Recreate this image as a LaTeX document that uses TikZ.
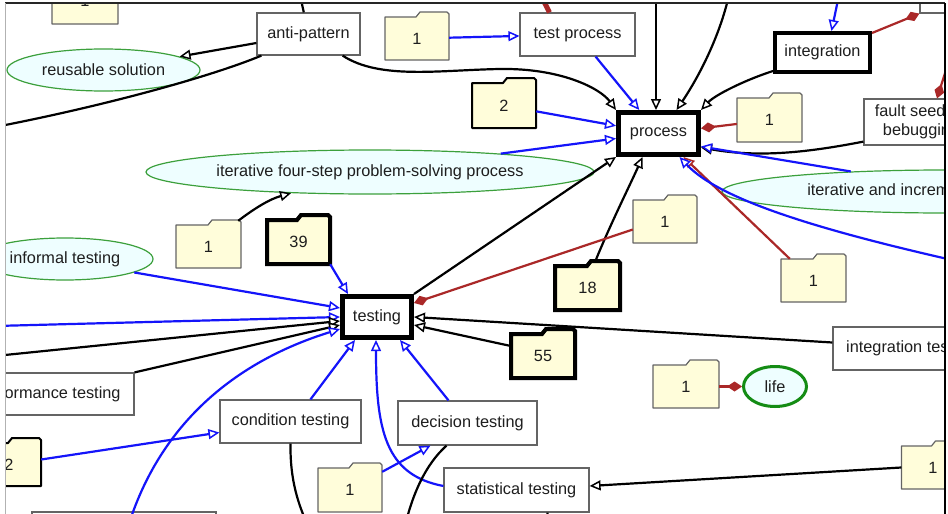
\documentclass[tikz,border=0pt]{standalone}
\usepackage{fontspec}
\setmainfont{Liberation Sans}
\usetikzlibrary{shapes.geometric,arrows.meta,calc}
\definecolor{foldfill}{RGB}{255,253,218}
\definecolor{foldline}{RGB}{100,100,100}
\definecolor{ellfill}{RGB}{238,254,255}
\definecolor{ellline}{RGB}{60,160,60}
\definecolor{lifeline}{RGB}{20,140,20}
\definecolor{brn}{RGB}{170,40,40}
\definecolor{blu}{RGB}{20,20,250}
\definecolor{txt}{RGB}{30,30,30}
\definecolor{boxline}{RGB}{100,100,100}
\tikzset{
 lbl/.style={font=\fontsize{16.3}{19.5}\selectfont, text=txt, inner sep=2pt},
 box/.style={lbl, rectangle, draw=boxline, fill=white, line width=1.2pt},
 heavy/.style={box, draw=black, line width=5pt},
 ell/.style={lbl, ellipse, draw=ellline, fill=ellfill, line width=1.2pt, inner sep=0pt},
 foldbox/.style={draw=foldline, fill=foldfill, line width=1.2pt, line join=round},
 foldheavy/.style={draw=black, line width=4pt, line join=miter},
 foldtext/.style={lbl, draw=none, fill=none, rectangle},
 conn/.style={line width=2.2pt},
 blk/.style={conn, draw=black},
 bl/.style={conn, draw=blu},
 br/.style={conn, draw=brn},
 tri/.style={-{Triangle[length=11pt, width=10pt, fill=white, line width=1.5pt]}},
 dia/.style={-{Diamond[length=15pt, width=10pt, fill=brn]}},
}
% name, cx, cy, w, h, extra style, text
\newcommand\folder[7]{%
 \draw[foldbox,#6] (#2-#4/2,#3+#5/2) -- (#2-#4/2,#3-#5/2) -- (#2+#4/2-33,#3-#5/2)
   -- (#2+#4/2-29,#3-#5/2-5) -- (#2+#4/2-2,#3-#5/2-5) -- (#2+#4/2,#3-#5/2-3)
   -- (#2+#4/2,#3+#5/2) -- cycle;
 \node[foldtext,minimum width=#4pt,minimum height=#5pt] (#1) at (#2,#3) {#7};
}
\begin{document}
\begin{tikzpicture}[x=1pt,y=-1pt]
\useasboundingbox (0,0) rectangle (948,514);
\fill[white] (0,0) rectangle (948,514);
\begin{scope}
\clip (5,3) rectangle (945,514);
% boxes
\node[box, minimum width=103pt, minimum height=42pt] (antipattern) at (308.5,34) {anti-pattern};
\node[box, minimum width=115pt, minimum height=43pt] (testprocess) at (577.5,34.5) {test process};
\node[heavy, minimum width=80pt, minimum height=42pt] (process) at (658.5,133.5) {process};
\node[heavy, line width=4pt, minimum width=95pt, minimum height=39pt] (integration) at (822.5,52.5) {integration};
\node[box, align=center, minimum width=114pt, minimum height=46pt] (faultseeding) at (921,122) {fault seeding\\bebugging};
\node[box, minimum width=100pt, minimum height=34pt] (toprect) at (970,-4) {};
\node[heavy, minimum width=69pt, minimum height=41pt] (testing) at (377,317) {testing};
\node[box, minimum width=155pt, minimum height=43pt] (inttesting) at (910.5,348.5) {integration testing};
\node[box, minimum width=171pt, minimum height=42pt] (perftesting) at (48.5,394) {performance testing};
\node[box, minimum width=141pt, minimum height=43pt] (condition) at (290.5,421.5) {condition testing};
\node[box, minimum width=139pt, minimum height=44pt] (decision) at (467.5,423) {decision testing};
\node[box, minimum width=145pt, minimum height=44pt] (statistical) at (516.5,490) {statistical testing};
\node[box, minimum width=184pt, minimum height=48pt] (bottomrect) at (124,536) {};
% ellipses
\node[ell, minimum width=193pt, minimum height=42pt] (reusable) at (103.5,70) {reusable solution};
\node[ell, minimum width=448pt, minimum height=44pt] (fourstep) at (370,172) {iterative four-step problem-solving process};
\node[ell, minimum width=446pt, minimum height=43pt] (incremental) at (945,191.5) {iterative and incremental development};
\node[ell, minimum width=176pt, minimum height=42pt] (informal) at (65,259) {informal testing};
\node[ell, draw=lifeline, line width=3pt, minimum width=63pt, minimum height=40pt] (life) at (775,386.5) {life};
% folders
\folder{fTL}{85}{1}{66}{46}{}{1}
\folder{fA}{417}{38.5}{64}{43}{}{1}
\folder{fB}{504}{105.5}{64}{45}{line width=2pt, draw=black}{2}
\folder{fC}{769.5}{120}{65}{44}{}{1}
\folder{fD}{208.5}{246.5}{65}{43}{}{1}
\folder{f39}{298.5}{242}{63}{44}{foldheavy}{39}
\folder{fE}{665}{221.5}{64}{43}{}{1}
\folder{f18}{587.5}{288}{65}{44}{foldheavy}{18}
\folder{fF}{813.5}{280.5}{65}{43}{}{1}
\folder{f55}{543}{356}{64}{44}{foldheavy}{55}
\folder{fG}{686}{386.5}{66}{43}{}{1}
\folder{f2L}{9}{464.5}{64}{43}{line width=2pt, draw=black}{2}
\folder{fH}{350}{490}{64}{44}{}{1}
\folder{fI}{933}{467.5}{63}{43}{}{1}
% free ends
\coordinate (cA) at (300,-5);
\coordinate (cB) at (-10,128);
\coordinate (cC) at (539,-8);
\coordinate (cD) at (656,-5);
\coordinate (cE) at (729,-5);
\coordinate (cF) at (839,-5);
\coordinate (cG) at (952,260);
\coordinate (cH) at (-5,326);
\coordinate (cI) at (-5,356);
\coordinate (cJ) at (127,530);
\coordinate (cK) at (310,530);
\coordinate (cL) at (404,530);
\coordinate (cM) at (548,530);
\coordinate (cN) at (953,48);
% connectors
\draw[blk] (cA) -- (antipattern);
\draw[blk,tri] ([yshift=-9pt]antipattern.west) -- (reusable.10);
\draw[blk] ([xshift=5pt]antipattern.south west) .. controls (215,75) and (110,105) .. (cB);
\draw[blk,tri] ([xshift=-18pt]antipattern.south east) .. controls (380,80) and (440,70) .. (500,69) .. controls (560,68) and (600,88) .. (process.north west);
\draw[bl,tri] (fA) -- (testprocess);
\draw[bl,tri] (testprocess) -- (process);
\draw[br, line width=5pt] (cC) -- ([xshift=-28pt]testprocess.north);
\draw[blk,tri] (cD) -- (cD |- process.north);
\draw[blk,tri] (cE) .. controls (720,35) and (700,75) .. ([xshift=18pt]process.north);
\draw[bl,tri] (cF) -- ([xshift=9pt]integration.north);
\draw[blk,tri] ([yshift=3pt]integration.south west) .. controls (745,80) and (715,95) .. (process.north east);
\draw[br,dia] (fC) -- (process);
\draw[blk,tri] ([yshift=4pt]faultseeding.south west) .. controls (810,152) and (760,158) .. ([yshift=-14pt]process.east);
\draw[bl,tri] (incremental.168) -- ([yshift=-13pt]process.east);
\draw[bl,tri] (fourstep.8) -- ([yshift=-5pt]process.west);
\draw[bl,tri] (fB) -- (process);
\draw[blk,tri] (testing.north east) -- (process.south west);
\draw[blk,tri] ([xshift=8pt,yshift=5pt]f18.north) .. controls (610,225) and (630,185) .. ([xshift=-16pt]process.south);
\draw[br,dia] ([yshift=-8pt]fE.west) -- ([yshift=14pt]testing.east);
\draw[br,tri] ([xshift=9pt]fF.north west) -- ([xshift=25pt]process.south);
\draw[bl,tri] (cG) .. controls (820,230) and (720,200) .. ([xshift=21pt]process.south);
\draw[bl,tri] (informal.-11) -- ([yshift=9pt]testing.west);
\draw[bl,tri] (cH) -- (testing.west);
\draw[blk,tri] (cI) -- ([yshift=-4pt]testing.west);
\draw[blk,tri] (perftesting.north east) -- ([yshift=-8pt]testing.west);
\draw[bl,tri] (cJ) .. controls (160,420) and (240,360) .. ([yshift=-12pt]testing.west);
\draw[bl,tri] (f39.south east) -- ([xshift=8pt]testing.north west);
\draw[blk,tri] ([xshift=-3pt,yshift=4pt]fD.north east) .. controls (255,208) and (270,199) .. (fourstep.195);
\draw[blk,tri] ([yshift=6pt]inttesting.west) -- (testing.east);
\draw[blk,tri] ([yshift=10pt]f55.west) -- ([yshift=-8pt]testing.east);
\draw[bl,tri] ([xshift=20pt]condition.north) -- ([xshift=-22pt]testing.south);
\draw[bl,tri] ([yshift=4pt]statistical.west) .. controls (385,475) and (376,430) .. ([xshift=-1pt]testing.south);
\draw[bl,tri] ([xshift=-19pt]decision.north) -- ([xshift=23pt]testing.south);
\draw[bl,tri] ([yshift=5pt]f2L.east) -- ([yshift=-11pt]condition.west);
\draw[bl,tri] ([yshift=-4pt]fH.north east) -- ([xshift=-37pt]decision.south);
\draw[blk] (condition.south) .. controls (290,480) and (298,505) .. (cK);
\draw[blk] ([xshift=-21pt]decision.south) .. controls (425,465) and (412,495) .. (cL);
\draw[blk,tri] (fI.west) -- ([yshift=4pt]statistical.east);
\draw[blk] ([xshift=31pt]statistical.south) -- (cM);
\draw[br,dia] (fG) -- (life);
\draw[br,dia] ([yshift=-2pt]integration.north east) -- (toprect.south west);
\draw[br,dia] (cN) -- ([xshift=16pt]faultseeding.north);
\end{scope}
% viewport frame
\draw[line width=1.5pt, black!85] (5,3) -- (945,3);
\draw[line width=1pt, black!30] (5,3) -- (5,514);
\draw[line width=1.5pt, black] (945,3) -- (945,514);
\end{tikzpicture}
\end{document}
